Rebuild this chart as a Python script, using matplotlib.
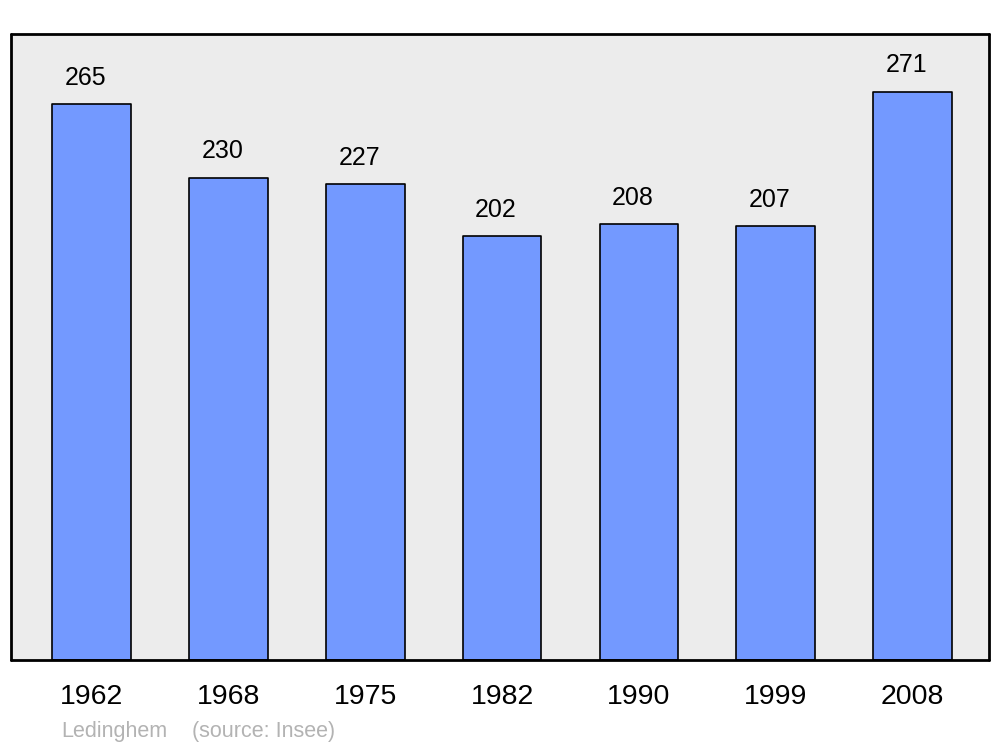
import matplotlib
matplotlib.use("Agg")
import matplotlib.pyplot as plt

years = ["1962", "1968", "1975", "1982", "1990", "1999", "2008"]
population = [265, 230, 227, 202, 208, 207, 271]
commune = "Ledinghem"
source = "(source: Insee)"

plt.rcParams["font.family"] = ["Liberation Sans", "DejaVu Sans"]

fig = plt.figure(figsize=(10, 7.47), dpi=100)
ax = fig.add_axes([0.011, 0.1165, 0.978, 0.838])
ax.set_facecolor("#ececec")

x = list(range(len(years)))
bars = ax.bar(x, population, width=0.575, color="#7399ff",
              edgecolor="black", linewidth=1.2)
for b in bars:
    b.set_joinstyle("round")

for xi, v in zip(x, population):
    ax.text(xi - 0.045, v + 12.5, str(v), ha="center", va="center", fontsize=18)

ax.set_xlim(-0.59, 6.56)
ax.set_ylim(0, 298.5)
ax.set_xticks(x)
ax.set_xticklabels(years, fontsize=20.5)
ax.tick_params(axis="x", length=0, pad=17)
ax.set_yticks([])

for s in ax.spines.values():
    s.set_linewidth(2)
    s.set_capstyle("round")
    s.set_joinstyle("round")

fig.text(0.061, 0.0205, commune, fontsize=15.5, color="#b3b3b3", va="center")
fig.text(0.192, 0.0205, source, fontsize=15.5, color="#b3b3b3", va="center")

fig.savefig("out.png", dpi=100)
